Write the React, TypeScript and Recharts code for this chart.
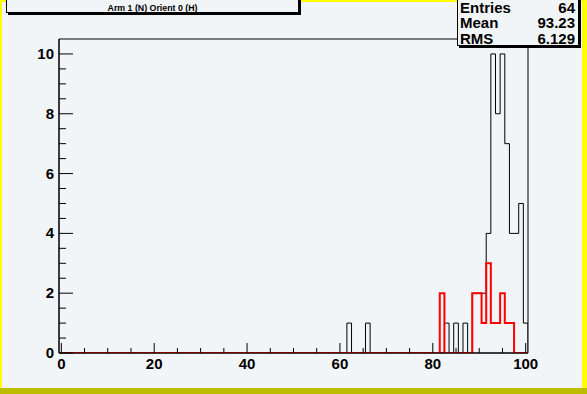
import { ComposedChart, Line, XAxis, YAxis, ReferenceArea } from 'recharts';

// histogram contents (bin centre -> entries), bins of width 1 from -0.5 to 100.5
const blackBins = [62, 66, 83, 85, 87, 89, 90, 91, 92, 93, 94, 95, 96, 97, 98, 99, 100];
const blackCounts = [1, 1, 1, 1, 1, 2, 2, 2, 4, 10, 8, 10, 7, 4, 4, 5, 1];
const redBins = [82, 89, 90, 91, 92, 93, 94, 95, 96, 97];
const redCounts = [2, 2, 2, 1, 3, 1, 1, 2, 1, 1];

const xTicks = [0, 5, 10, 15, 20, 25, 30, 35, 40, 45, 50, 55, 60, 65, 70, 75, 80, 85, 90, 95, 100];
const yTicks = [0, 0.5, 1, 1.5, 2, 2.5, 3, 3.5, 4, 4.5, 5, 5.5, 6, 6.5, 7, 7.5, 8, 8.5, 9, 9.5, 10];

const title = 'Arm 1 (N) Orient 0 (H)';
const stats = [
  { label: 'Entries', value: '64' },
  { label: 'Mean', value: '93.23' },
  { label: 'RMS', value: '6.129' },
];

const NBINS = 101;
const FONT = '"Liberation Sans", Arial, Helvetica, sans-serif';
const BG = '#f2f5f7';

function countAt(bins: number[], counts: number[], b: number) {
  const i = bins.indexOf(b);
  return i < 0 ? 0 : counts[i];
}

// step points at lower bin edges, plus closing edge
const data: { x: number; black: number; red: number }[] = [];
for (let b = 0; b < NBINS; b++) {
  data.push({ x: b - 0.5, black: countAt(blackBins, blackCounts, b), red: countAt(redBins, redCounts, b) });
}
data.push({ x: NBINS - 0.5, black: 0, red: 0 });

function XTick(props: any) {
  const { x, y, payload } = props;
  const major = payload.value % 20 === 0;
  return (
    <g>
      <line x1={x} y1={y} x2={x} y2={y - (major ? 10 : 5)} stroke="#000" />
      {major && (
        <text x={x} y={y + 16} textAnchor="middle" fontSize={15} fontWeight="bold" fontFamily={FONT} fill="#000">
          {payload.value}
        </text>
      )}
    </g>
  );
}

function YTick(props: any) {
  const { x, y, payload } = props;
  const major = payload.value % 2 === 0;
  return (
    <g>
      <line x1={x} y1={y} x2={x + (major ? 14 : 7)} y2={y} stroke="#000" />
      {major && (
        <text x={x - 5} y={y + 5} textAnchor="end" fontSize={15} fontWeight="bold" fontFamily={FONT} fill="#000">
          {payload.value}
        </text>
      )}
    </g>
  );
}

export default function App() {
  return (
    <div style={{ position: 'relative', width: 587, height: 394, background: BG, overflow: 'hidden', fontFamily: FONT }}>
      <style>{'body{margin:0}'}</style>

      {/* canvas bevel */}
      <div style={{ position: 'absolute', left: 0, top: 0, width: 587, height: 2, background: '#ffff00' }} />
      <div style={{ position: 'absolute', left: 0, top: 0, width: 2, height: 394, background: '#ffff00' }} />
      <div style={{ position: 'absolute', left: 582, top: 0, width: 5, height: 394, background: '#ffff00' }} />
      <div style={{ position: 'absolute', left: 0, top: 388, width: 587, height: 6, background: '#bdbd00' }} />

      <div style={{ position: 'absolute', left: 0, top: 0 }}>
        <ComposedChart width={587} height={394} data={data} margin={{ top: 39, right: 59, bottom: 0, left: 0 }}>
          <XAxis
            dataKey="x"
            type="number"
            domain={[-0.5, 100.5]}
            ticks={xTicks}
            interval={0}
            height={41}
            tickSize={0}
            tickMargin={0}
            tickLine={false}
            tick={<XTick />}
            axisLine={{ stroke: '#000' }}
            allowDataOverflow
          />
          <YAxis
            type="number"
            domain={[0, 10.5]}
            ticks={yTicks}
            interval={0}
            width={59}
            tickSize={0}
            tickMargin={0}
            tickLine={false}
            tick={<YTick />}
            axisLine={{ stroke: '#000' }}
            allowDataOverflow
          />
          <ReferenceArea x1={-0.5} x2={100.5} y1={0} y2={10.5} fill="none" fillOpacity={0} stroke="#000" strokeWidth={1} />
          <Line dataKey="black" type="stepAfter" stroke="#000" strokeWidth={1} dot={false} isAnimationActive={false} />
          <Line dataKey="red" type="stepAfter" stroke="#ff0000" strokeWidth={2} dot={false} isAnimationActive={false} />
        </ComposedChart>
      </div>

      {/* title box */}
      <div
        style={{
          position: 'absolute', left: 6, top: -2, width: 291, height: 13,
          border: '1px solid #000', background: BG, boxShadow: '2px 2px 0 #000',
          fontSize: 8.8, fontWeight: 'bold', textAlign: 'center', lineHeight: '19px', color: '#000',
        }}
      >
        {title}
      </div>

      {/* stats box */}
      <div
        style={{
          position: 'absolute', left: 457, top: -3, width: 120, height: 47,
          border: '1px solid #000', background: BG, boxShadow: '2px 2px 0 #000',
        }}
      >
        {stats.map((s, i) => (
          <div
            key={s.label}
            style={{
              position: 'absolute', left: 2, right: 3, top: 0.5 + i * 15.75, height: 17,
              display: 'flex', justifyContent: 'space-between',
              fontSize: 15, fontWeight: 'bold', lineHeight: '17px', color: '#000',
            }}
          >
            <span>{s.label}</span>
            <span>{s.value}</span>
          </div>
        ))}
      </div>
    </div>
  );
}
